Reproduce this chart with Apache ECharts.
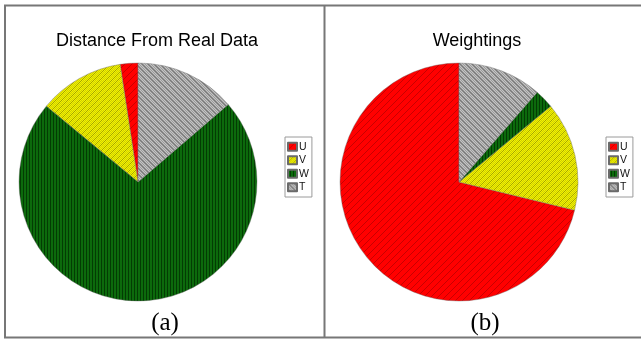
<!DOCTYPE html>
<html>
<head>
<meta charset="utf-8">
<script src="https://cdn.jsdelivr.net/npm/echarts@6/dist/echarts.min.js"></script>
<style>
  html, body { margin: 0; padding: 0; background: #fff; }
  #chart { width: 641px; height: 340px; }
</style>
</head>
<body>
<div id="chart"></div>
<script>
// Components shared by both pies
const categories = ['U', 'V', 'W', 'T'];
// Panel (a): distance from real data, share per component (%)
const distanceValues = [2.4, 11.6, 72.3, 13.7];
// Panel (b): weightings per component (%)
const weightValues = [71.2, 14.8, 2.6, 11.4];
const panelTitles = ['Distance From Real Data', 'Weightings'];
const panelCaptions = ['(a)', '(b)'];

// Build a small repeating hatch tile on a canvas
function tile(w, h, pick) {
  const c = document.createElement('canvas');
  c.width = w; c.height = h;
  const g = c.getContext('2d');
  for (let y = 0; y < h; y++) {
    for (let x = 0; x < w; x++) {
      g.fillStyle = pick(x, y);
      g.fillRect(x, y, 1, 1);
    }
  }
  return { image: c, repeat: 'repeat' };
}

const fills = {
  U: tile(7, 7, (x, y) => ((x + y) % 7 === 6 ? '#c80000' : '#ff0000')),
  V: tile(6, 6, (x, y) => ((x + y) % 6 === 5 ? '#a4a400' : ((x + y) % 2 === 0 ? '#f2f200' : '#d0d000'))),
  W: tile(3, 1, (x) => (x === 2 ? '#033c03' : '#0c6a0c')),
  T: tile(6, 6, (x, y) => (((x - y + 6) % 6) === 0 ? '#787878' : ((x + y) % 2 === 0 ? '#c4c4c4' : '#9a9a9a')))
};

function pieData(values) {
  return categories.map((name, i) => ({
    name: name,
    value: values[i],
    itemStyle: { color: fills[name] }
  }));
}

function pieSeries(values, center) {
  return {
    type: 'pie',
    center: center,
    radius: 119,
    startAngle: 90,
    clockwise: false,
    label: { show: false },
    labelLine: { show: false },
    silent: true,
    animation: false,
    itemStyle: { borderColor: '#6a6a6a', borderWidth: 0.4 },
    data: pieData(values)
  };
}

function legendAt(left) {
  return {
    left: left,
    top: 137,
    orient: 'vertical',
    icon: 'rect',
    itemWidth: 9,
    itemHeight: 8,
    itemGap: 0,
    padding: [3, 3, 3, 2],
    borderColor: '#9a9a9a',
    borderWidth: 1,
    selectedMode: false,
    textStyle: {
      fontFamily: 'Liberation Sans, Arial, sans-serif',
      fontSize: 10.5,
      color: '#111',
      lineHeight: 13.5,
      padding: [0, 0, 0, -3]
    },
    data: categories.map((name) => ({ name: name, itemStyle: { color: fills[name] } }))
  };
}

const chart = echarts.init(document.getElementById('chart'), null, { renderer: 'canvas' });

const titleFont = { fontFamily: 'Liberation Sans, Arial, sans-serif', fontSize: 18, fontWeight: 'normal', color: '#000' };

chart.setOption({
  backgroundColor: '#ffffff',
  animation: false,
  title: [
    { text: panelTitles[0], left: 152, top: 27, textAlign: 'center', textStyle: titleFont },
    { text: panelTitles[1], left: 472, top: 27, textAlign: 'center', textStyle: titleFont }
  ],
  legend: [legendAt(285), legendAt(606)],
  series: [
    pieSeries(distanceValues, [138, 182]),
    pieSeries(weightValues, [459, 182])
  ],
  graphic: [
    {
      type: 'rect', silent: true,
      shape: { x: 5, y: 5.5, width: 640, height: 332 },
      style: { fill: null, stroke: '#777', lineWidth: 2 }
    },
    {
      type: 'line', silent: true,
      shape: { x1: 324.5, y1: 5, x2: 324.5, y2: 338 },
      style: { stroke: '#777', lineWidth: 2 }
    },
    {
      type: 'text', silent: true, x: 165, y: 323,
      style: { text: panelCaptions[0], font: '25px "Liberation Serif", "DejaVu Serif", serif', fill: '#000', align: 'center', verticalAlign: 'middle' }
    },
    {
      type: 'text', silent: true, x: 485, y: 323,
      style: { text: panelCaptions[1], font: '25px "Liberation Serif", "DejaVu Serif", serif', fill: '#000', align: 'center', verticalAlign: 'middle' }
    }
  ]
});
</script>
</body>
</html>
